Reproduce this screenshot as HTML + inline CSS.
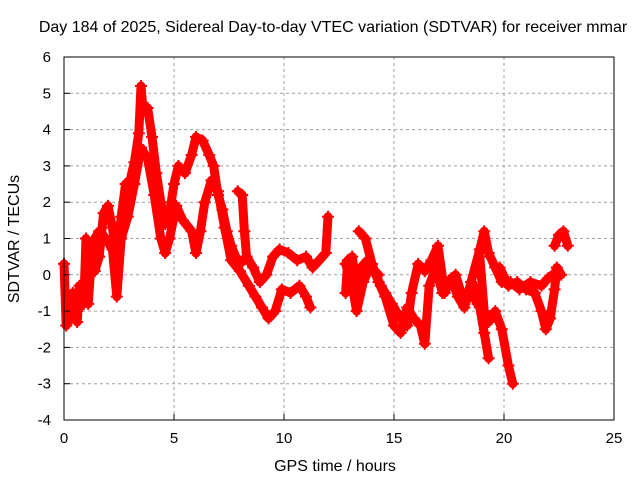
<!DOCTYPE html>
<html><head><meta charset="utf-8"><style>
body{margin:0;background:#fff}
svg{display:block;font-family:"Liberation Sans",sans-serif}
</style></head><body>
<svg id="chart" width="640" height="480" viewBox="0 0 640 480" xmlns="http://www.w3.org/2000/svg">
<rect width="640" height="480" fill="#fff"/>
<text x="333" y="32" font-size="16" text-anchor="middle">Day 184 of 2025, Sidereal Day-to-day VTEC variation (SDTVAR) for receiver mmar</text>
<g id="grid"></g>
<g id="series"></g>
<rect x="64" y="57" width="550" height="363" fill="none" stroke="#000" stroke-width="1"/>
<g id="ticks"></g>
<text x="335" y="471" font-size="16" text-anchor="middle">GPS time / hours</text>
<text transform="translate(19,239) rotate(-90)" font-size="16" text-anchor="middle">SDTVAR / TECUs</text>
</svg>
<script>
const xTicks=[0,5,10,15,20,25];
const yTicks=[-4,-3,-2,-1,0,1,2,3,4,5,6];
const trace1=[[0,0.3],[0.1,-1.4],[0.2,-0.6],[0.35,-1.2],[0.5,-0.8],[0.6,-1.3],[0.7,-0.3],[0.9,-0.8],[1.0,1.0],[1.2,0.4],[1.4,0.1],[1.6,0.5],[1.8,1.7],[2.0,1.9],[2.2,1.3],[2.4,0.5],[2.6,1.6],[2.8,2.5],[3.0,2.6],[3.2,3.1],[3.4,3.9],[3.5,5.2],[3.6,4.5],[3.8,4.6],[4.0,3.8],[4.2,2.8],[4.4,2.0],[4.6,1.4],[4.8,1.7],[5.0,2.5],[5.2,3.0],[5.5,2.8],[5.8,3.3],[6.0,3.8],[6.3,3.7],[6.6,3.3],[6.8,3.0],[7.0,2.2],[7.2,1.8],[7.4,1.2],[7.6,0.8],[7.8,0.5],[8.0,0.3],[8.3,0.5],[8.6,0.2],[8.9,-0.2],[9.2,0],[9.5,0.5],[9.8,0.7],[10.2,0.6],[10.6,0.4],[11.0,0.5],[11.3,0.2],[11.6,0.4],[11.9,0.6],[12.0,1.6]];
const trace2=[[0.2,-1.0],[0.4,-0.5],[0.6,-1.0],[1.0,-0.5],[1.1,-0.8],[1.3,0.9],[1.6,1.2],[1.9,1.0],[2.2,0.7],[2.4,-0.6],[2.6,1.0],[2.9,1.6],[3.2,2.5],[3.5,3.5],[3.8,3.2],[4.1,2.2],[4.4,1.0],[4.6,0.6],[4.8,1.0],[5.1,1.9],[5.4,1.5],[5.8,1.2],[6.0,0.6],[6.2,1.2],[6.4,2.0],[6.7,2.6],[7.0,2.3],[7.3,1.3],[7.6,0.4],[8.0,0.1],[8.4,-0.3],[8.7,-0.6],[9.0,-0.9],[9.3,-1.2],[9.6,-1.0],[9.9,-0.4],[10.3,-0.5],[10.7,-0.3],[11.0,-0.6],[11.2,-0.9]];
const trace3=[[7.9,2.3],[8.1,2.2],[8.2,1.2],[8.3,0.5]];
const trace4=[[12.8,-0.5],[12.9,0.4],[13.1,0.5],[13.3,-0.3],[13.5,0.2],[13.8,0.4],[14.1,0.1],[14.4,-0.3],[14.6,-0.5],[14.9,-0.8],[15.3,-1.2],[15.6,-1.4],[15.8,-0.5],[16.1,0.3],[16.4,0.1],[16.7,0.4],[17.0,0.8],[17.3,-0.5],[17.6,-0.1],[17.9,-0.6],[18.2,-0.9],[18.5,-0.2],[18.9,0.7],[19.1,1.2],[19.3,0.6],[19.6,0.2],[19.9,-0.2],[20.3,-0.2],[20.7,-0.4],[21.2,-0.2],[21.7,-0.3],[22.0,-0.1],[22.2,0]];
const trace5=[[13.4,1.2],[13.7,1.0],[14.0,0.3],[14.3,-0.2],[14.6,-0.6],[15.0,-1.4],[15.3,-1.6],[15.6,-0.9],[15.9,-1.2],[16.2,-1.4],[16.4,-1.9],[16.6,-0.3],[16.9,0.2],[17.2,-0.5],[17.5,-0.3],[17.8,0.0],[18.2,-0.8],[18.5,-0.5],[18.8,-0.8]];
const trace6=[[18.9,0.5],[19.1,-1.0],[19.3,-1.3],[19.6,-1.0],[19.9,-1.5],[20.2,-2.5],[20.4,-3.0]];
const trace7=[[18.6,-0.3],[18.9,-0.9],[19.1,-1.6],[19.3,-2.3]];
const trace8=[[19.8,0.2],[20.2,-0.3],[20.6,-0.2],[21.0,-0.4],[21.4,-0.5],[21.7,-1.0],[21.9,-1.5],[22.1,-1.2],[22.3,-0.4],[22.4,0.2],[22.6,0.0]];
const trace9=[[22.3,0.8],[22.5,1.1],[22.7,1.2],[22.9,0.8]];
const trace10=[[12.8,0.3],[13.1,-0.3],[13.3,-1.0],[13.6,-0.2],[13.9,0.2],[14.3,0.0]];
const traces=[trace1,trace2,trace3,trace4,trace5,trace6,trace7,trace8,trace9,trace10];

const X0=64,X1=614,Y0=420,Y1=57;
const xs=h=>X0+(h-0)/25*(X1-X0);
const ys=v=>Y0-(v+4)/10*(Y0-Y1);
const NS="http://www.w3.org/2000/svg";
const grid=document.getElementById('grid'),ticks=document.getElementById('ticks'),ser=document.getElementById('series');
function mk(tag,attrs,parent){const e=document.createElementNS(NS,tag);for(const k in attrs)e.setAttribute(k,attrs[k]);parent.appendChild(e);return e;}
xTicks.forEach(t=>{const x=xs(t);
 if(t>0&&t<25){const g=mk('line',{x1:x,x2:x,y1:Y0,y2:Y1,stroke:'#a0a0a0','stroke-dasharray':'3,3'},grid);
 
 }
 const tk=mk('line',{x1:x,x2:x,y1:Y0,y2:Y0-6,stroke:'#000'},ticks);
 
 
 const tx=mk('text',{x:x,y:443,'font-size':15,'text-anchor':'middle'},ticks);tx.textContent=t;
 
 });
yTicks.forEach(t=>{const y=ys(t);
 if(t>-4&&t<6){const g=mk('line',{x1:X0,x2:X1,y1:y,y2:y,stroke:'#a0a0a0','stroke-dasharray':'3,3'},grid);
 
 }
 const tk=mk('line',{x1:X0,x2:X0+6,y1:y,y2:y,stroke:'#000'},ticks);
 
 
 const tx=mk('text',{x:51,y:y+5,'font-size':15,'text-anchor':'end'},ticks);tx.textContent=t;
 
 });
traces.forEach((tr,i)=>{
 const pts=tr.map(p=>xs(p[0]).toFixed(1)+','+ys(p[1]).toFixed(1)).join(' ');
 const pl=mk('polyline',{points:pts,fill:'none',stroke:'#ff0000','stroke-width':9,'stroke-linejoin':'round','stroke-linecap':'round'},ser);
 
 
 tr.forEach(p=>{const x=xs(p[0]),y=ys(p[1]);
  const m=mk('path',{d:`M${x-6},${y}h12M${x},${y-6}v12`,stroke:'#ff0000','stroke-width':2},ser);
  
  });
});
</script>
</body></html>
